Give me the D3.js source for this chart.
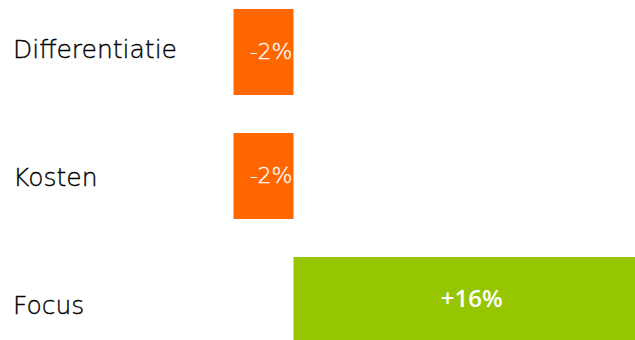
<!DOCTYPE html>
<html>
<head>
<meta charset="utf-8">
<script src="https://cdn.jsdelivr.net/npm/d3@7"></script>
<style>
  html, body { margin: 0; padding: 0; background: #ffffff; }
  svg { display: block; }
</style>
</head>
<body>
<svg id="chart" width="635" height="340"></svg>
<script>
// Strategies and their change in percent
const categories = ["Differentiatie", "Kosten", "Focus"];
const changes = [-2, -2, 16];
const valueLabels = ["-2%", "-2%", "+16%"];

const W = 635, H = 340;
const svg = d3.select("#chart");

// Value axis: the negative side is stretched so the short bars still hold their label;
// the long positive bar runs past the right edge.
const x = d3.scaleLinear()
  .domain([-2, 0, 16])
  .range([233.5, 293.5, 650]);

// Bar rows
const y = d3.scaleBand()
  .domain(categories)
  .range([0, 352])
  .paddingInner(0.3065)
  .paddingOuter(0.0726);

// Category label baselines
const yLabel = d3.scalePoint()
  .domain(categories)
  .range([58, 314]);

const colour = v => v < 0 ? "#FF6600" : "#95C600";

const rows = categories.map((c, i) => ({ cat: c, value: changes[i], label: valueLabels[i] }));

const plot = svg.append("g");
plot.append("clipPath").attr("id", "clip")
  .append("rect").attr("x", 0).attr("y", 0).attr("width", W).attr("height", H);

const bars = plot.append("g").attr("clip-path", "url(#clip)");
bars.selectAll("rect")
  .data(rows)
  .join("rect")
  .attr("x", d => x(Math.min(0, d.value)))
  .attr("width", d => Math.abs(x(d.value) - x(0)))
  .attr("y", d => y(d.cat))
  .attr("height", y.bandwidth())
  .attr("fill", d => colour(d.value));

// Category names on the left
svg.append("g")
  .selectAll("text")
  .data(rows)
  .join("text")
  .attr("x", 13)
  .attr("y", d => yLabel(d.cat))
  .attr("font-family", "'DejaVu Sans', sans-serif")
  .attr("font-size", 25)
  .attr("font-weight", 200)
  .attr("fill", "#000000")
  .attr("stroke", "#000000")
  .attr("stroke-width", 0.35)
  .text(d => d.cat);

// Values inside the bars
svg.append("g")
  .selectAll("text")
  .data(rows)
  .join("text")
  .attr("x", d => d.value < 0 ? x(0) - 1 : (x(0) + x(d.value)) / 2)
  .attr("y", d => y(d.cat) + y.bandwidth() / 2)
  .attr("dy", d => d.value < 0 ? "0.34em" : "0.3em")
  .attr("text-anchor", d => d.value < 0 ? "end" : "middle")
  .attr("font-family", d => d.value < 0 ? "'DejaVu Sans', sans-serif" : "'Open Sans', sans-serif")
  .attr("font-size", d => d.value < 0 ? 22 : 24)
  .attr("font-weight", d => d.value < 0 ? 200 : 600)
  .attr("fill", "#ffffff")
  .attr("stroke", d => d.value < 0 ? "#ffffff" : "none")
  .attr("stroke-width", 0.3)
  .text(d => d.label);
</script>
</body>
</html>
